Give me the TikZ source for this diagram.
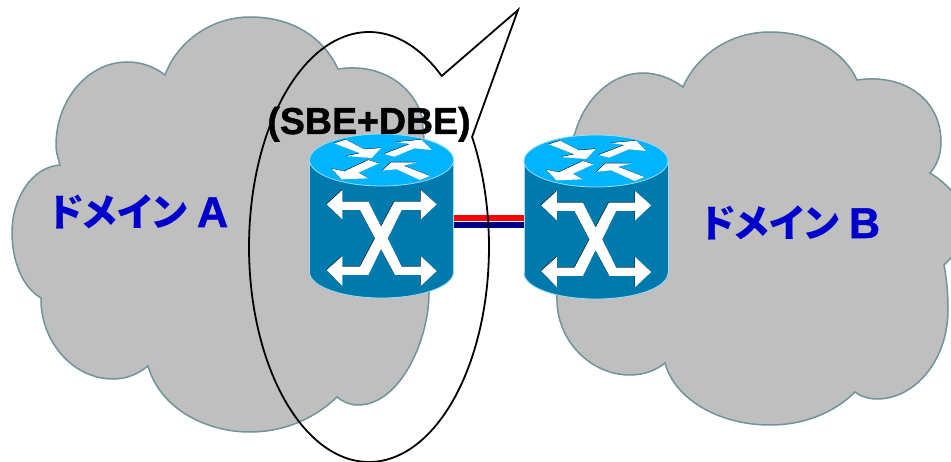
\documentclass[tikz,border=0pt]{standalone}
\usepackage{fontspec}
\setmainfont{Liberation Sans}
\newfontfamily\heavy[BoldFont={Liberation Sans Bold},BoldFeatures={FakeBold=1.2}]{Liberation Sans}
\newfontfamily\cjk[RawFeature=+palt]{Noto Sans CJK JP}
\definecolor{cloudfill}{HTML}{BFBFBF}
\definecolor{cloudline}{HTML}{6F9499}
\definecolor{bodyblue}{HTML}{0079AD}
\definecolor{topblue}{HTML}{00B4FF}
\definecolor{edgeblue}{HTML}{9ADCF2}
\definecolor{labelblue}{HTML}{0000CC}
\definecolor{linkred}{HTML}{FF0000}
\definecolor{linknavy}{HTML}{000080}
\tikzset{
  cloudshape/.style={fill=cloudfill,draw=cloudline,line width=1.5pt,line join=miter},
  routerbox/.style={minimum width=144pt,minimum height=164pt,inner sep=0pt,outer sep=0pt},
  calloutline/.style={draw=black,line width=1.8pt,line join=miter},
  linkbar/.style={line width=6.4pt},
  domainlabel/.style={text=labelblue,font=\bfseries,anchor=base west,inner sep=0pt},
  iconshade/.style={fill=black},
  iconwhite/.style={fill=white}
}
\newcommand{\iconpoly}[1]{%
  \fill[iconshade,shift={(-1.3,-1.1)}] #1 -- cycle;
  \fill[iconwhite] #1 -- cycle;}
\newcommand{\drawrouter}[2]{%
\begin{scope}[shift={(#1,#2)}]
  \fill[bodyblue,draw=edgeblue,line width=.8pt] (381.5,272) ellipse [x radius=72pt,y radius=26pt];
  \fill[bodyblue] (309.5,160) rectangle (453.5,272);
  \draw[edgeblue,line width=.8pt] (309.5,160) -- (309.5,272) (453.5,160) -- (453.5,272);
  \fill[topblue,draw=edgeblue,line width=.8pt] (381.5,160) ellipse [x radius=72pt,y radius=26pt];
  \begin{scope}[shift={(305,130)},x=.33333pt,y=-.33333pt]
    \iconpoly{(88,40) -- (122,29) -- (178,58) -- (228,54) -- (200,84) -- (122,78) -- (165,70)}
    \iconpoly{(237,72) -- (315,42) -- (272,36) -- (350,29) -- (380,60) -- (328,55) -- (268,80)}
    \iconpoly{(190,90) -- (222,100) -- (160,128) -- (190,145) -- (110,148) -- (80,116) -- (118,124)}
    \iconpoly{(232,122) -- (258,97) -- (338,97) -- (295,107) -- (375,138) -- (345,150) -- (275,118)}
  \end{scope}
  \begin{scope}[shift={(305,180)},x=.33333pt,y=-.33333pt]
    \iconpoly{(65,73) -- (112,30) -- (112,65) -- (190,65) -- (228,140) -- (268,65) -- (347,65) -- (347,30) -- (395,73) -- (347,118) -- (347,90) -- (290,90) -- (248,175) -- (290,260) -- (347,260) -- (347,228) -- (395,273) -- (347,318) -- (347,285) -- (270,285) -- (228,207) -- (190,285) -- (112,285) -- (112,318) -- (65,270) -- (112,228) -- (112,260) -- (165,260) -- (210,175) -- (165,90) -- (112,90) -- (112,118)}
  \end{scope}
\end{scope}}
\begin{document}
\begin{tikzpicture}[x=1pt,y=-1pt]
\useasboundingbox (0,0) rectangle (951,462);
\clip (0,0) rectangle (951,462);
% cloud A
\path[cloudshape] (165,75) .. controls (178,40) and (213,17) .. (250,17)
  .. controls (290,17) and (322,35) .. (338,69)
  .. controls (385,62) and (415,90) .. (422,117)
  .. controls (430,200) and (432,260) .. (429,293)
  .. controls (429,340) and (400,405) .. (358,405)
  .. controls (350,405) and (343,402) .. (337,397)
  .. controls (315,418) and (285,432) .. (250,432)
  .. controls (205,432) and (160,408) .. (148,366)
  .. controls (138,374) and (127,379) .. (113,379)
  .. controls (72,379) and (40,340) .. (41,298)
  .. controls (22,287) and (12,260) .. (12,233)
  .. controls (12,198) and (32,167) .. (60,165)
  .. controls (57,155) and (56,150) .. (56,145)
  .. controls (56,100) and (88,62) .. (127,62)
  .. controls (142,62) and (155,67) .. (165,75) -- cycle;
% cloud B
\path[cloudshape] (683,87) .. controls (697,55) and (730,32) .. (770,32)
  .. controls (810,32) and (843,50) .. (857,80)
  .. controls (905,73) and (941,100) .. (941,142)
  .. controls (941,155) and (937,165) .. (930,173)
  .. controls (945,182) and (965,200) .. (965,225)
  .. controls (965,240) and (955,255) .. (944,265)
  .. controls (947,280) and (948,295) .. (948,310)
  .. controls (948,360) and (915,399) .. (877,399)
  .. controls (868,399) and (860,396) .. (855,392)
  .. controls (835,412) and (805,425) .. (770,425)
  .. controls (720,425) and (675,400) .. (665,363)
  .. controls (655,371) and (643,375) .. (630,375)
  .. controls (590,375) and (557,340) .. (557,300)
  .. controls (553,250) and (540,200) .. (575,133)
  .. controls (585,98) and (612,73) .. (643,73)
  .. controls (658,73) and (672,79) .. (683,87) -- cycle;
% routers as named anchors
\node[routerbox] (ra) at (381.5,216) {};
\node[routerbox] (rb) at (596,216) {};
% links
\draw[linkbar,linkred] ([yshift=-2pt]ra.east) -- ([yshift=-2pt]rb.west);
\draw[linkbar,linknavy] ([yshift=-9pt]ra.east) -- ([yshift=-9pt]rb.west);
% callout
\draw[calloutline] (518,10) -- plot[domain=-30.8:307.3,samples=200] ({369+120*cos(\x)},{247+215*sin(\x)}) -- cycle;
\drawrouter{0}{0}
\drawrouter{214.5}{1}
% labels
\node[font=\heavy\bfseries\fontsize{37.5}{37.5}\selectfont,anchor=base,inner sep=0pt,text=black] (sbe) at (369,134) {(SBE+DBE)};
\node[domainlabel,font=\heavy\bfseries\fontsize{43}{43}\selectfont] (da) at (49,227) {{\cjk\fontsize{38.5}{38.5}\selectfont ドメイン}\kern-2pt{} A};
\node[domainlabel,font=\heavy\bfseries\fontsize{43}{43}\selectfont] (db) at (701,238) {{\cjk\fontsize{38.5}{38.5}\selectfont ドメイン}\kern-2pt{} B};
\end{tikzpicture}
\end{document}
